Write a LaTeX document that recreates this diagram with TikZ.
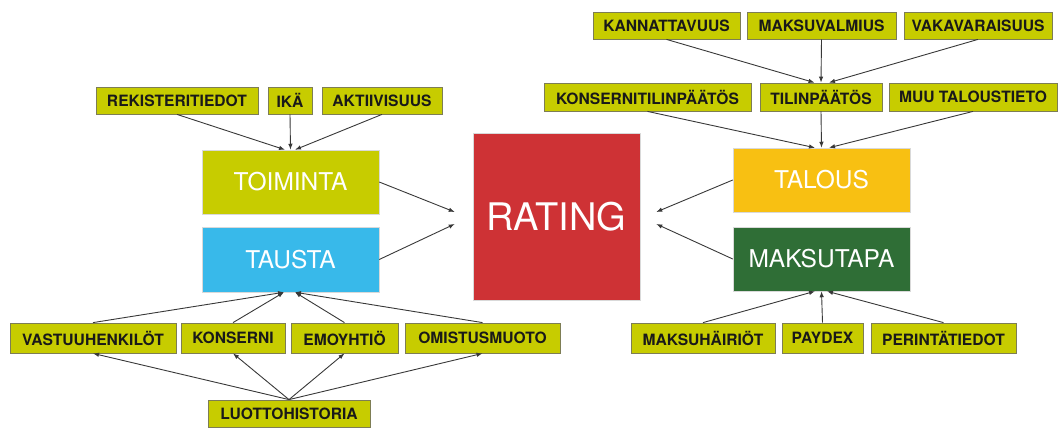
\documentclass[tikz,border=0pt]{standalone}
\usepackage{fontspec}
\setmainfont{TeX Gyre Heros}
\usetikzlibrary{arrows.meta,shadows,calc}
\definecolor{olive}{RGB}{199,204,0}
\definecolor{oliveedge}{RGB}{125,125,85}
\definecolor{tausta}{RGB}{56,185,234}
\definecolor{rating}{RGB}{206,50,53}
\definecolor{talous}{RGB}{248,192,18}
\definecolor{maksu}{RGB}{47,110,54}
\tikzset{
  sbox/.style={draw=oliveedge, line width=0.8pt, fill=olive, inner sep=0pt,
    text=black!90, font=\bfseries\fontsize{15.6}{15.6}\selectfont,
    drop shadow={shadow xshift=0.8pt, shadow yshift=-1.2pt, opacity=0.3}},
  bbox/.style={draw=black!15, line width=0.5pt, inner sep=0pt, text=white,
    font=\fontsize{24.5}{24.5}\selectfont,
    drop shadow={shadow xshift=0.8pt, shadow yshift=-1.2pt, opacity=0.3}},
  arr/.style={draw=black!78, line width=0.9pt, -{Latex[length=6pt,width=4.5pt]}}
}
\begin{document}
\begin{tikzpicture}[x=1pt,y=-1pt]
\useasboundingbox (0,0) rectangle (1059,428);
% left top row
\node[sbox, minimum width=162pt, minimum height=27pt] (rek) at (177,100.5) {REKISTERITIEDOT};
\node[sbox, minimum width=44pt, minimum height=27pt] (ika) at (290,100.5) {IKÄ};
\node[sbox, minimum width=120pt, minimum height=27pt] (akt) at (382,100.5) {AKTIIVISUUS};
% left big boxes
\node[bbox, fill=olive, minimum width=177pt, minimum height=64pt] (toim) at (290.5,182) {TOIMINTA};
\node[bbox, fill=tausta, minimum width=177pt, minimum height=65pt] (taus) at (290.5,259.5) {TAUSTA};
% left bottom row
\node[sbox, minimum width=166pt, minimum height=30pt] (vast) at (93,338) {VASTUUHENKILÖT};
\node[sbox, minimum width=104pt, minimum height=30pt] (kons) at (233,338) {KONSERNI};
\node[sbox, minimum width=107pt, minimum height=30pt] (emo) at (344.5,338) {EMOYHTIÖ};
\node[sbox, minimum width=155pt, minimum height=30pt] (omis) at (482.5,338) {OMISTUSMUOTO};
\node[sbox, minimum width=162pt, minimum height=27pt] (luot) at (289,413.5) {LUOTTOHISTORIA};
% rating
\node[bbox, fill=rating, minimum width=167pt, minimum height=167pt, font=\fontsize{38}{38}\selectfont] (rat) at (556.5,216.5) {RATING};
% right top rows
\node[sbox, minimum width=147pt, minimum height=27pt] (kann) at (666.5,25.5) {KANNATTAVUUS};
\node[sbox, minimum width=149pt, minimum height=27pt] (maks) at (821.5,25.5) {MAKSUVALMIUS};
\node[sbox, minimum width=148pt, minimum height=27pt] (vaka) at (978,25.5) {VAKAVARAISUUS};
\node[sbox, minimum width=207pt, minimum height=28pt] (ktp) at (647.5,97) {KONSERNITILINPÄÄTÖS};
\node[sbox, minimum width=122pt, minimum height=28pt] (tp) at (821,97) {TILINPÄÄTÖS};
\node[sbox, minimum width=168pt, minimum height=28pt] (muu) at (973,97) {MUU TALOUSTIETO};
% right big boxes
\node[bbox, fill=talous, minimum width=177pt, minimum height=64pt] (tal) at (821.5,180) {TALOUS};
\node[bbox, fill=maksu, minimum width=177pt, minimum height=64pt] (mt) at (821.5,259) {MAKSUTAPA};
% right bottom row
\node[sbox, minimum width=144pt, minimum height=30pt] (mh) at (703,338) {MAKSUHÄIRIÖT};
\node[sbox, minimum width=81pt, minimum height=30pt] (pay) at (822.5,338) {PAYDEX};
\node[sbox, minimum width=145pt, minimum height=30pt] (per) at (943.5,338) {PERINTÄTIEDOT};
% arrows left top
\draw[arr] (rek.south) -- ([xshift=-5.5pt]toim.north);
\draw[arr] (ika.south) -- (toim.north);
\draw[arr] (akt.south) -- ([xshift=4.5pt]toim.north);
% arrows to rating
\draw[arr] (toim.east) -- ([xshift=-18pt,yshift=4.5pt]rat.west);
\draw[arr] (taus.east) -- ([xshift=-18pt,yshift=-7.5pt]rat.west);
\draw[arr] (tal.west) -- ([xshift=16pt,yshift=4.5pt]rat.east);
\draw[arr] (mt.west) -- ([xshift=16pt,yshift=-7.5pt]rat.east);
% left bottom
\draw[arr] (vast.north) -- ([xshift=-6.5pt]taus.south);
\draw[arr] (kons.north) -- ([xshift=-6.5pt]taus.south);
\draw[arr] (emo.north) -- ([xshift=4.5pt]taus.south);
\draw[arr] (omis.north) -- ([xshift=4.5pt]taus.south);
\draw[arr] (luot.north) -- (vast.south);
\draw[arr] (luot.north) -- (kons.south);
\draw[arr] (luot.north) -- (emo.south);
\draw[arr] (luot.north) -- (omis.south);
% right top
\draw[arr] (kann.south) -- ([xshift=-6.5pt]tp.north);
\draw[arr] (maks.south) -- (tp.north);
\draw[arr] (vaka.south) -- ([xshift=8pt]tp.north);
\draw[arr] (ktp.south) -- ([xshift=-6.5pt]tal.north);
\draw[arr] (tp.south) -- (tal.north);
\draw[arr] (muu.south) -- ([xshift=7.5pt]tal.north);
% right bottom
\draw[arr] (mh.north) -- ([xshift=-6.5pt]mt.south);
\draw[arr] (pay.north) -- (mt.south);
\draw[arr] (per.north) -- ([xshift=5.5pt]mt.south);
\end{tikzpicture}
\end{document}
